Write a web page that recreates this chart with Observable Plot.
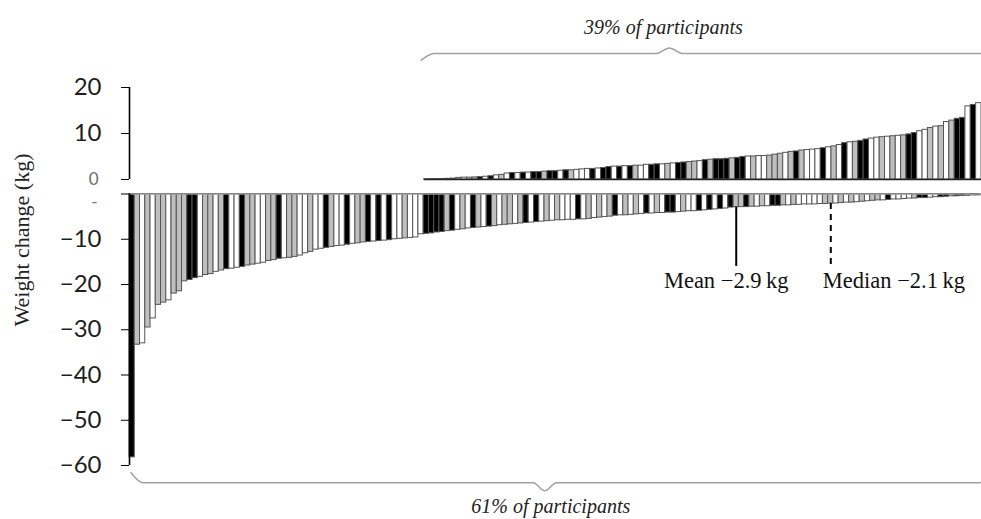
<!DOCTYPE html>
<html><head><meta charset="utf-8">
<script src="https://cdn.jsdelivr.net/npm/d3@7"></script>
<script src="https://cdn.jsdelivr.net/npm/@observablehq/plot@0.6"></script>
<style>
body{margin:0;background:#fff;}
#wrap{position:relative;width:981px;height:519px;overflow:hidden;background:#fff;}
#wrap svg{position:absolute;left:0;top:0;}
#ylabel{position:absolute;left:22px;top:240px;transform:translate(-50%,-50%) rotate(-90deg);white-space:nowrap;font:22px "Liberation Serif",serif;color:#222;}
</style></head>
<body><div id="wrap"><div id="ylabel"></div></div>
<script>
// ---- data ----
const lossValues = [
-58.2,-33.3,-33.0,-29.5,-27.5,-24.5,-24.0,-23.5,-22.0,-21.5,
-19.3,-19.0,-18.6,-18.3,-17.9,-17.7,-17.2,-16.9,-16.6,-16.5,
-16.3,-16.1,-15.8,-15.6,-15.4,-15.2,-14.8,-14.6,-14.3,-14.2,
-14.1,-13.9,-13.6,-13.1,-12.8,-12.3,-12.1,-11.9,-11.7,-11.5,
-11.4,-11.2,-11.0,-10.9,-10.7,-10.6,-10.5,-10.4,-10.3,-10.2,
-10.0,-9.9,-9.8,-9.7,-9.6,-8.9,-8.8,-8.7,-8.5,-8.4,
-8.2,-8.1,-7.9,-7.8,-7.6,-7.5,-7.4,-7.3,-7.2,-7.1,
-6.9,-6.8,-6.7,-6.6,-6.5,-6.4,-6.3,-6.2,-6.1,-6.0,
-5.9,-5.8,-5.8,-5.7,-5.7,-5.6,-5.6,-5.5,-5.3,-5.2,
-5.1,-5.0,-4.8,-4.7,-4.7,-4.6,-4.5,-4.4,-4.3,-4.3,
-4.2,-4.2,-4.1,-4.1,-4.0,-3.9,-3.8,-3.8,-3.7,-3.6,
-3.5,-3.4,-3.3,-3.2,-3.0,-2.9,-2.9,-2.9,-2.8,-2.8,
-2.7,-2.7,-2.6,-2.6,-2.5,-2.5,-2.4,-2.4,-2.3,-2.3,
-2.3,-2.2,-2.2,-2.1,-2.1,-2.0,-1.9,-1.9,-1.8,-1.7,
-1.6,-1.5,-1.4,-1.4,-1.3,-1.2,-1.2,-1.1,-1.0,-1.0,
-0.9,-0.9,-0.8,-0.7,-0.7,-0.6,-0.5,-0.5,-0.4,-0.4,
-0.3,-0.3];
const lossColors =
  "KGWGWGGWGGGKKWGGWGKWWKGGWWGGKWGGWWGWWKGWW" +
  "KWGGKWKWKWWGWWWKKKKGKWGWKGWKGWGGWGKWKWGWG" +
  "WWWKWGWGWGKWGWGWKWGWKKWGWWKWKWKWKGGKGWGW" +
  "KKGWGWWWWWGGWGWGWGWGGWKWWWWGKKWWKKGKKGGK";
const gainValues = [
0.05,0.08,0.1,0.12,0.15,0.2,
0.35,0.4,0.4,0.45,0.5,
0.6,0.7,0.9,1.0,
1.3,1.4,1.4,1.5,1.5,1.6,1.6,
1.7,1.8,1.8,1.9,
2.0,2.0,2.1,2.2,
2.3,2.3,2.4,2.5,
2.7,2.8,2.8,2.9,2.9,3.0,3.0,
3.2,3.2,3.3,3.3,3.4,
3.5,3.6,3.7,
3.8,3.9,4.0,
4.2,4.3,4.4,4.4,4.5,
4.6,4.7,4.9,
5.0,5.0,5.1,5.1,5.2,
5.4,5.6,5.8,
6.0,6.1,6.3,
6.4,6.5,6.6,
6.8,7.0,7.2,
7.5,7.9,8.1,
8.2,8.4,8.7,
8.9,9.1,9.2,
9.3,9.4,9.5,
9.6,9.8,10.1,
10.5,10.8,11.2,
11.5,11.6,
12.5,12.8,
13.2,13.4,
15.9,16.2,16.6];
const gainColors =
  "KKKKKK" + "GWGGK" + "WKWGWKWKWKKGKKWKGWWWKWKKWKWKGWWK" +
  "KWGWKKGGWKGKKKGKKWGWWGGGWGKGWWWKWGWKWGKKWWGWGWGKKWWGWGWGKKWKW";
const gainTicks = [0, 10, 20];
const lossTicks = [0, -10, -20, -30, -40, -50, -60];
const zeroTickLabels = ["0", "-"];
const meanChange = -2.9;
const medianChange = -2.1;
const annotationLabels = ["Mean \u22122.9\u2009kg", "Median \u22122.1\u2009kg"];
const yTitle = "Weight change (kg)";
const groupLabel = "% of participants";

// ---- derived ----
const fills = {K: "#000000", G: "#bfbfbf", W: "#ffffff"};
const N = lossValues.length + gainValues.length;
const lossData = lossValues.map((v, i) => ({i, v, c: lossColors[i] || "W"}));
const gainData = gainValues.map((v, i) => ({i, v, c: gainColors[i] || "W"}));
const gainOffset = 55; // layout: empty slots before first gain bar
const serif = "'Liberation Serif', 'Times New Roman', serif";

function brace(x0, x1, tip, yBase, yEnd, yTip, d) {
  return [
    {x: x0, y: yEnd}, {x: x0 + d, y: yBase}, {x: tip - d, y: yBase},
    {x: tip, y: yTip}, {x: tip + d, y: yBase}, {x: x1 - d, y: yBase}, {x: x1, y: yEnd}
  ];
}

const meanIdx = d3.minIndex(lossValues, v => Math.abs(v - meanChange));
const medianIdx = d3.minIndex(lossValues, v => Math.abs(v - medianChange));
const lineBottom = -16;
const annots = [
  {x: meanIdx + 0.5, v: meanChange, label: annotationLabels[0]},
  {x: medianIdx + 0.5, v: medianChange, label: annotationLabels[1]}
];

const wrap = document.getElementById("wrap");
document.getElementById("ylabel").textContent = yTitle;

const lossTip = lossValues.length * 0.488;
const gainTip = gainValues.length * 0.44;

// ---- bottom panel (weight loss) ----
const lossPlot = Plot.plot({
  width: 981, height: 519,
  marginTop: 193.5, marginBottom: 54, marginLeft: 129, marginRight: 1,
  x: {domain: [0, lossValues.length], axis: null},
  y: {domain: [-60, 0], axis: null},
  style: {background: "transparent", fontFamily: "Lato", fontSize: "24px", color: "#1e1e1e", overflow: "visible"},
  marks: [
    Plot.rect(lossData, {x1: "i", x2: d => d.i + 1, y1: 0, y2: "v", fill: d => fills[d.c], stroke: "#555", strokeWidth: 1}),
    Plot.ruleY([0], {x1: 0, x2: lossValues.length, stroke: "#999", strokeWidth: 1.5}),
    Plot.ruleX([0], {y1: -60, y2: 0, stroke: "#000", strokeWidth: 1.6}),
    Plot.axisY(lossTicks, {tickSize: 8, tickPadding: 20, label: null, stroke: "#000",
      tickFormat: d => d === 0 ? "" : "\u2212" + Math.abs(d)}),
    Plot.text([zeroTickLabels[1]], {x: () => 0, y: () => 0, text: d => d, textAnchor: "end", dx: -32, dy: 9, fill: "#777", fontSize: 17}),
    Plot.ruleX([annots[0]], {x: "x", y1: "v", y2: lineBottom, stroke: "#000", strokeWidth: 2}),
    Plot.ruleX([annots[1]], {x: "x", y1: "v", y2: lineBottom, stroke: "#000", strokeWidth: 2, strokeDasharray: "6,5"}),
    Plot.text([annots[0]], {x: "x", y: () => -19.2, text: "label", textAnchor: "middle", dx: -10, fontFamily: serif, fontSize: 22.5, fill: "#111"}),
    Plot.text([annots[1]], {x: "x", y: () => -19.2, text: "label", textAnchor: "start", dx: -8, fontFamily: serif, fontSize: 22.5, fill: "#111"}),
    Plot.line(brace(0.3, lossValues.length + 2, lossTip, -63.8, -61.6, -65.6, 2.2), {x: "x", y: "y", curve: "monotone-x", stroke: "#a0a0a0", strokeWidth: 1.4}),
    Plot.text([Math.round(100 * lossValues.length / N) + groupLabel], {x: () => lossTip, y: () => -69.1, text: d => d, dx: 6, fontFamily: serif, fontStyle: "italic", fontSize: 20, fill: "#222"})
  ]
});
wrap.appendChild(lossPlot);

// ---- top panel (weight gain) ----
const gainPlot = Plot.plot({
  width: 981, height: 200,
  marginTop: 87, marginBottom: 21, marginLeft: 129, marginRight: 0,
  x: {domain: [-gainOffset, gainValues.length], axis: null},
  y: {domain: [0, 20], axis: null},
  style: {background: "transparent", fontFamily: "Lato", fontSize: "24px", color: "#1e1e1e", overflow: "visible"},
  marks: [
    Plot.rect(gainData, {x1: "i", x2: d => d.i + 1, y1: 0, y2: "v", fill: d => fills[d.c], stroke: "#555", strokeWidth: 1}),
    Plot.ruleY([0], {x1: 0, x2: gainValues.length, stroke: "#222", strokeWidth: 1.5}),
    Plot.ruleX([-gainOffset], {y1: 0, y2: 20, stroke: "#000", strokeWidth: 1.6}),
    Plot.axisY(gainTicks, {tickSize: 8, tickPadding: 20, label: null, stroke: "#000",
      tickFormat: d => d === 0 ? "" : String(d)}),
    Plot.text([zeroTickLabels[0]], {x: () => -gainOffset, y: () => 0, text: d => d, textAnchor: "end", dx: -31, fill: "#6b6b6b", fontSize: 17}),
    Plot.line(brace(-0.6, gainValues.length + 2.5, gainTip, 27.4, 25.9, 28.6, 2.4), {x: "x", y: "y", curve: "monotone-x", stroke: "#a0a0a0", strokeWidth: 1.4}),
    Plot.text([Math.round(100 * gainValues.length / N) + groupLabel], {x: () => gainTip, y: () => 33, text: d => d, dx: -6, fontFamily: serif, fontStyle: "italic", fontSize: 20, fill: "#222"})
  ]
});
wrap.appendChild(gainPlot);
</script>
</body></html>
